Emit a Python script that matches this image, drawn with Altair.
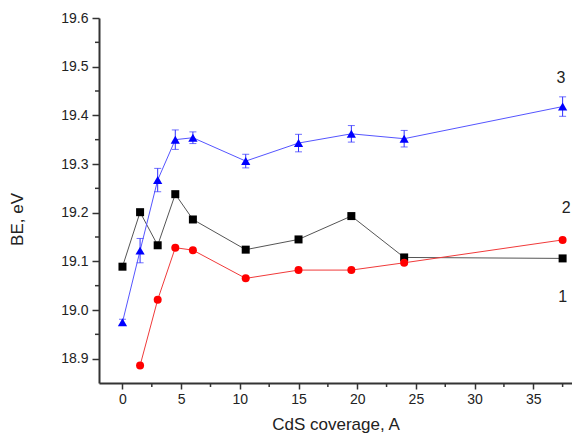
import altair as alt
import pandas as pd

# ---- data ----
x_all = [0, 1.5, 3, 4.5, 6, 10.5, 15, 19.5, 24, 37.5]
series2_black = [19.089, 19.201, 19.133, 19.238, 19.186, 19.124, 19.145, 19.193, 19.108, 19.106]
series3_blue = [18.975, 19.122, 19.267, 19.350, 19.354, 19.306, 19.343, 19.362, 19.352, 19.418]
series3_err = [0.006, 0.025, 0.024, 0.020, 0.012, 0.014, 0.018, 0.017, 0.017, 0.020]
x_red = [1.5, 3, 4.5, 6, 10.5, 15, 19.5, 24, 37.5]
series1_red = [18.886, 19.021, 19.128, 19.123, 19.065, 19.082, 19.082, 19.097, 19.144]

x_major = [0, 5, 10, 15, 20, 25, 30, 35]
x_minor = [2.5, 7.5, 12.5, 17.5, 22.5, 27.5, 32.5, 37.5]
y_major = [18.9, 19.0, 19.1, 19.2, 19.3, 19.4, 19.5, 19.6]
y_minor = [18.95, 19.05, 19.15, 19.25, 19.35, 19.45, 19.55]

label_text = ["3", "2", "1"]
label_x = [37.35, 37.8, 37.5]
label_y = [19.476, 19.209, 19.027]

W, H = 473, 365
FONT = "Liberation Sans"

xs = alt.Scale(domain=[-2, 38.3], nice=False, zero=False)
ys = alt.Scale(domain=[18.85, 19.6], nice=False, zero=False)

df_black = pd.DataFrame({"x": x_all, "y": series2_black})
df_blue = pd.DataFrame({"x": x_all, "y": series3_blue,
                        "lo": [v - e for v, e in zip(series3_blue, series3_err)],
                        "hi": [v + e for v, e in zip(series3_blue, series3_err)]})
df_red = pd.DataFrame({"x": x_red, "y": series1_red})
df_lab = pd.DataFrame({"t": label_text, "x": label_x, "y": label_y})

X = alt.X("x:Q", scale=xs, title="CdS coverage, A",
          axis=alt.Axis(values=x_major, grid=False, tickSize=6, labelPadding=3,
                        titleY=46, titleBaseline="alphabetic", titleFontSize=17,
                        titleFontWeight="normal"))
Y = alt.Y("y:Q", scale=ys, title="BE, eV",
          axis=alt.Axis(values=y_major, format=".1f", grid=False, tickSize=7,
                        labelPadding=4, titleX=-82, titleY=201, titleAngle=-90,
                        titleAlign="center", titleBaseline="middle",
                        titleFontSize=17, titleFontWeight="normal"))

base_black = alt.Chart(df_black)
black_line = base_black.mark_line(color="#555555", strokeWidth=1).encode(x=X, y=Y)
black_pts = base_black.mark_point(shape="square", filled=True, color="#000000",
                                  size=64, opacity=1).encode(x="x:Q", y="y:Q")

base_red = alt.Chart(df_red)
red_line = base_red.mark_line(color="#f03a3a", strokeWidth=1).encode(x="x:Q", y="y:Q")
red_pts = base_red.mark_point(shape="circle", filled=True, color="#ff0000",
                              size=64, opacity=1).encode(x="x:Q", y="y:Q")

base_blue = alt.Chart(df_blue)
blue_err = base_blue.mark_rule(color="#3030ff", strokeWidth=1).encode(
    x="x:Q", y="lo:Q", y2="hi:Q")
blue_cap_lo = base_blue.mark_tick(color="#3030ff", orient="horizontal", size=7,
                                  thickness=1).encode(x="x:Q", y="lo:Q")
blue_cap_hi = base_blue.mark_tick(color="#3030ff", orient="horizontal", size=7,
                                  thickness=1).encode(x="x:Q", y="hi:Q")
blue_line = base_blue.mark_line(color="#5555ff", strokeWidth=1).encode(x="x:Q", y="y:Q")
blue_pts = base_blue.mark_point(shape="triangle-up", filled=True, color="#0000ff",
                                size=85, opacity=1).encode(x="x:Q", y="y:Q")

labels = alt.Chart(df_lab).mark_text(font=FONT, fontSize=16, color="#222222").encode(
    x="x:Q", y="y:Q", text="t:N")

minor_x = alt.Chart(pd.DataFrame({"x": x_minor})).mark_rule(
    color="#333333", strokeWidth=1.5).encode(x="x:Q", y=alt.value(H), y2=alt.value(H + 4))
minor_y = alt.Chart(pd.DataFrame({"y": y_minor})).mark_rule(
    color="#333333", strokeWidth=1.5).encode(y="y:Q", x=alt.value(0), x2=alt.value(-4))

chart = alt.layer(
    black_line, black_pts, red_line, red_pts,
    blue_line, blue_err, blue_cap_lo, blue_cap_hi, blue_pts,
    labels, minor_x, minor_y,
).properties(
    width=W, height=H,
    autosize=alt.AutoSizeParams(type="none"),
    padding={"left": 99, "top": 18, "right": 0, "bottom": 51},
    background="white",
).configure_view(stroke=None).configure_axis(
    domainColor="#333333", domainWidth=2, tickColor="#333333", tickWidth=1.5,
    labelFont=FONT, labelFontSize=14, labelColor="#222222",
    titleFont=FONT, titleColor="#222222",
)

chart.save("out.html", embed_options={"renderer": "svg", "actions": False})
